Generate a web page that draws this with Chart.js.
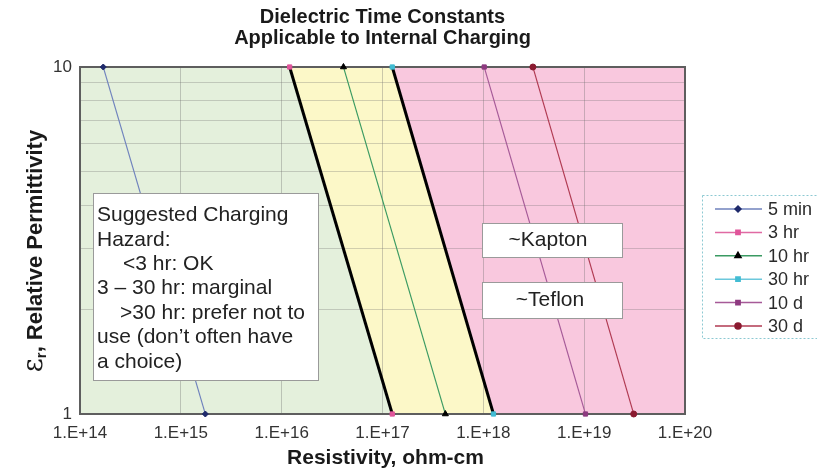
<!DOCTYPE html>
<html>
<head>
<meta charset="utf-8">
<title>Dielectric Time Constants</title>
<script src="https://cdn.jsdelivr.net/npm/chart.js@4/dist/chart.umd.min.js"></script>
<style>
  html, body { margin: 0; padding: 0; background: #ffffff; }
  canvas { display: block; }
</style>
</head>
<body>
<canvas id="chart" width="817" height="472"></canvas>
<script>
// Relative permittivity at the two ends of each constant-time-constant line
const permittivity = [10, 1];

// Series names (time constant tau = eps0 * eps_r * rho)
const seriesNames = ['5 min', '3 hr', '10 hr', '30 hr', '10 d', '30 d'];

// Resistivity (ohm-cm) at eps_r = 10 and eps_r = 1 for each series
const rho5min = [1.7e14, 1.75e15];
const rho3hr  = [1.2e16, 1.25e17];
const rho10hr = [4.1e16, 4.2e17];
const rho30hr = [1.25e17, 1.26e18];
const rho10d  = [1.02e18, 1.03e19];
const rho30d  = [3.1e18, 3.1e19];

// Axis ticks and their labels
const xTickValues = [1e14, 1e15, 1e16, 1e17, 1e18, 1e19, 1e20];
const xTickLabels = ['1.E+14', '1.E+15', '1.E+16', '1.E+17', '1.E+18', '1.E+19', '1.E+20'];
const yTickValues = [1, 2, 3, 4, 5, 6, 7, 8, 9, 10];
const yTickLabels = ['1', '', '', '', '', '', '', '', '', '10'];

const seriesValues = [rho5min, rho3hr, rho10hr, rho30hr, rho10d, rho30d];
const lineColors   = ['#6f82bd', '#e06aa3', '#3a9a62', '#6cc8dc', '#a65a98', '#b03a52'];
const markerColors = ['#1f2a6b', '#e0559a', '#000000', '#42bcd3', '#8e3a80', '#8b1a30'];
const markerStyles = ['rectRot', 'rect', 'triangle', 'rect', 'rect', 'circle'];
const markerSizes  = [3, 3, 3.5, 3, 3, 3];
// 3 hr and 30 hr bound the hazard zones and are drawn as heavy black lines
const boundarySeries = ['3 hr', '30 hr'];

const FONT = '"Liberation Sans", Arial, Helvetica, sans-serif';

function toPoints(rho) {
  return rho.map((r, i) => ({ x: r, y: permittivity[i] }));
}

const datasets = seriesValues.map((rho, k) => ({
  label: seriesNames[k],
  data: toPoints(rho),
  showLine: !boundarySeries.includes(seriesNames[k]),
  borderColor: lineColors[k],
  borderWidth: 1.1,
  pointStyle: markerStyles[k],
  pointRadius: markerSizes[k],
  pointBackgroundColor: markerColors[k],
  pointBorderColor: markerColors[k],
  pointBorderWidth: 1,
  clip: false,
  order: 0
}));

// Heavy boundary lines, drawn underneath the markers
[rho3hr, rho30hr].forEach(rho => {
  datasets.push({
    label: '',
    data: toPoints(rho),
    showLine: true,
    borderColor: '#000000',
    borderWidth: 3,
    pointRadius: 0,
    order: 1
  });
});

function polygon(ctx, pts, fill) {
  ctx.beginPath();
  pts.forEach((p, i) => (i ? ctx.lineTo(p[0], p[1]) : ctx.moveTo(p[0], p[1])));
  ctx.closePath();
  ctx.fillStyle = fill;
  ctx.fill();
}

function drawBox(ctx, x, y, w, h) {
  ctx.save();
  ctx.fillStyle = '#ffffff';
  ctx.fillRect(x, y, w, h);
  ctx.strokeStyle = '#9a9a9a';
  ctx.lineWidth = 1;
  ctx.strokeRect(x + 0.5, y + 0.5, w, h);
  ctx.restore();
}

const decorations = {
  id: 'decorations',
  beforeDraw(chart) {
    const { ctx, chartArea: a, scales: { x, y } } = chart;
    ctx.save();
    ctx.fillStyle = '#ffffff';
    ctx.fillRect(0, 0, chart.width, chart.height);
    // hazard zones: >30 hr pink, 3-30 hr yellow, <3 hr green
    ctx.fillStyle = '#f9c8de';
    ctx.fillRect(a.left, a.top, a.right - a.left, a.bottom - a.top);
    const yTop = y.getPixelForValue(permittivity[0]);
    const yBot = y.getPixelForValue(permittivity[1]);
    polygon(ctx, [[a.left, yTop], [x.getPixelForValue(rho30hr[0]), yTop],
                  [x.getPixelForValue(rho30hr[1]), yBot], [a.left, yBot]], '#fcf8c8');
    polygon(ctx, [[a.left, yTop], [x.getPixelForValue(rho3hr[0]), yTop],
                  [x.getPixelForValue(rho3hr[1]), yBot], [a.left, yBot]], '#e4f0dc');
    ctx.restore();
  },
  beforeDatasetsDraw(chart) {
    const { ctx, chartArea: a } = chart;
    ctx.save();
    ctx.strokeStyle = '#5e5e5e';
    ctx.lineWidth = 2;
    ctx.strokeRect(a.left, a.top, a.right - a.left, a.bottom - a.top);
    ctx.restore();
  },
  afterDatasetsDraw(chart) {
    const { ctx } = chart;
    ctx.save();
    // hazard note
    drawBox(ctx, 93, 193, 225, 187);
    ctx.fillStyle = '#222222';
    ctx.font = '21px ' + FONT;
    ctx.textBaseline = 'middle';
    ctx.textAlign = 'left';
    const note = [
      ['Suggested Charging', 97, 215],
      ['Hazard:', 97, 240],
      ['<3 hr: OK', 123, 264],
      ['3 \u2013 30 hr: marginal', 97, 288],
      ['>30 hr: prefer not to', 120, 313],
      ['use (don\u2019t often have', 97, 337],
      ['a choice)', 97, 362]
    ];
    note.forEach(([t, tx, ty]) => ctx.fillText(t, tx, ty));
    // material labels
    drawBox(ctx, 482, 223, 140, 34);
    drawBox(ctx, 482, 282, 140, 36);
    ctx.textAlign = 'center';
    ctx.fillText('~Kapton', 548, 240);
    ctx.fillText('~Teflon', 550, 300);
    ctx.restore();
  },
  afterDraw(chart) {
    const { ctx, chartArea: a } = chart;
    const cx = (a.left + a.right) / 2;
    ctx.save();
    ctx.fillStyle = '#1a1a1a';
    ctx.textAlign = 'center';
    ctx.textBaseline = 'middle';
    // title
    ctx.font = 'bold 20px ' + FONT;
    ctx.fillText('Dielectric Time Constants', cx, 17);
    ctx.fillText('Applicable to Internal Charging', cx, 38);
    // x axis title
    ctx.font = 'bold 21px ' + FONT;
    ctx.fillText('Resistivity, ohm-cm', cx + 3, 458);
    // y axis title with subscript r
    ctx.save();
    ctx.translate(34, 251);
    ctx.rotate(-Math.PI / 2);
    const epsFont = '27px "DejaVu Serif", serif';
    const subFont = 'bold 15px ' + FONT;
    const mainFont = 'bold 22px ' + FONT;
    const rest = ', Relative Permittivity';
    ctx.font = epsFont; const wE = ctx.measureText('\u03b5').width;
    ctx.font = subFont; const wR = ctx.measureText('r').width;
    ctx.font = mainFont; const wM = ctx.measureText(rest).width;
    let px = -(wE + wR + wM) / 2;
    ctx.textAlign = 'left';
    ctx.textBaseline = 'alphabetic';
    ctx.font = epsFont; ctx.fillText('\u03b5', px, 8); px += wE;
    ctx.font = subFont; ctx.fillText('r', px, 12); px += wR;
    ctx.font = mainFont; ctx.fillText(rest, px, 8);
    ctx.restore();
    // legend
    const lx = 702, ly = 195, lh = 143;
    ctx.fillStyle = '#ffffff';
    ctx.fillRect(lx, ly, 140, lh);
    ctx.strokeStyle = '#8cc9d2';
    ctx.lineWidth = 1;
    ctx.setLineDash([2, 2]);
    ctx.strokeRect(lx + 0.5, ly + 0.5, 140, lh);
    ctx.setLineDash([]);
    ctx.font = '18px ' + FONT;
    ctx.textAlign = 'left';
    ctx.textBaseline = 'middle';
    seriesNames.forEach((name, k) => {
      const yy = 209 + k * 23.4;
      ctx.strokeStyle = lineColors[k];
      ctx.lineWidth = 1.5;
      ctx.beginPath();
      ctx.moveTo(715, yy);
      ctx.lineTo(762, yy);
      ctx.stroke();
      ctx.fillStyle = markerColors[k];
      ctx.strokeStyle = markerColors[k];
      Chart.helpers.drawPoint(ctx, { pointStyle: markerStyles[k], radius: markerSizes[k], rotation: 0, borderWidth: 1 }, 738, yy);
      ctx.fillStyle = '#2a2a2a';
      ctx.fillText(name, 768, yy + 1);
    });
    ctx.restore();
  }
};

new Chart(document.getElementById('chart'), {
  type: 'scatter',
  data: { datasets },
  plugins: [decorations],
  options: {
    responsive: false,
    animation: false,
    events: [],
    layout: { padding: { top: 67, right: 132, left: 0, bottom: 0 } },
    plugins: {
      legend: { display: false },
      title: { display: false },
      tooltip: { enabled: false }
    },
    scales: {
      x: {
        type: 'logarithmic',
        min: xTickValues[0],
        max: xTickValues[xTickValues.length - 1],
        afterFit(s) { s.height = 58; },
        afterBuildTicks(s) { s.ticks = xTickValues.map(v => ({ value: v })); },
        ticks: {
          autoSkip: false,
          maxRotation: 0,
          padding: 9,
          color: '#333333',
          font: { family: FONT, size: 17 },
          callback: (v, i) => xTickLabels[i]
        },
        grid: { color: 'rgba(110,110,110,0.35)', lineWidth: 1, drawTicks: false },
        border: { display: false }
      },
      y: {
        type: 'logarithmic',
        min: yTickValues[0],
        max: yTickValues[yTickValues.length - 1],
        afterFit(s) { s.width = 80; },
        afterBuildTicks(s) { s.ticks = yTickValues.map(v => ({ value: v })); },
        ticks: {
          autoSkip: false,
          padding: 8,
          color: '#333333',
          font: { family: FONT, size: 17 },
          callback: (v, i) => yTickLabels[i]
        },
        grid: { color: 'rgba(110,110,110,0.3)', lineWidth: 1, drawTicks: false },
        border: { display: false }
      }
    }
  }
});
</script>
</body>
</html>
